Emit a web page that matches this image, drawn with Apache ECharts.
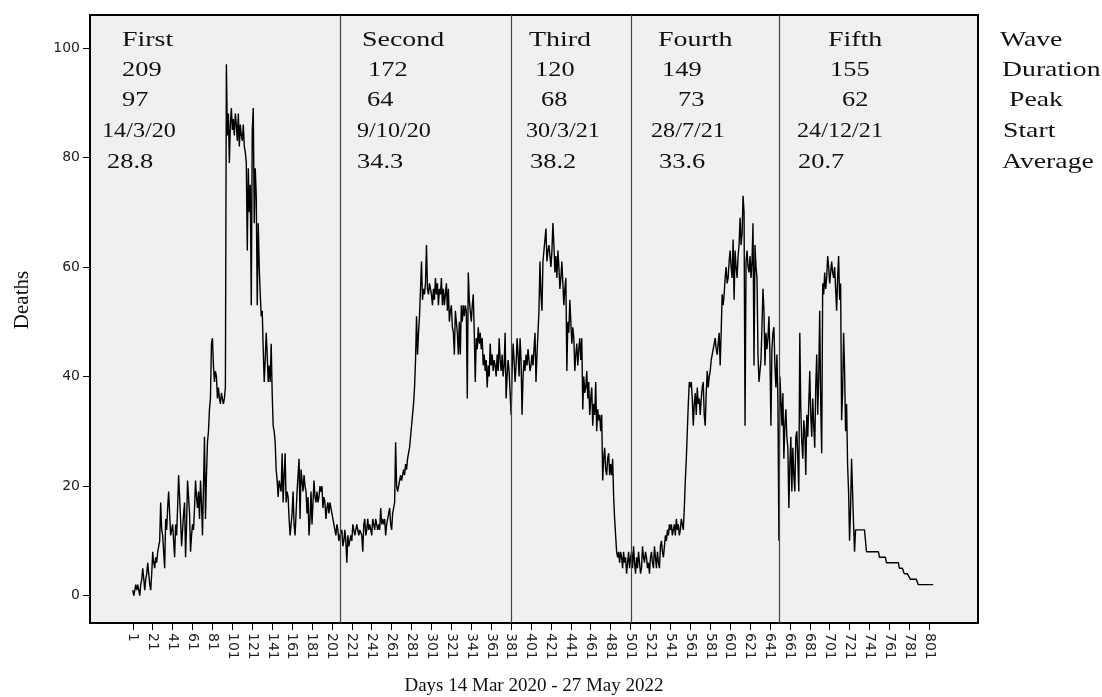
<!DOCTYPE html>
<html>
<head>
<meta charset="utf-8">
<script src="https://cdn.jsdelivr.net/npm/echarts@6/dist/echarts.min.js"></script>
<style>
html,body{margin:0;padding:0;background:#fff;}
#chart{width:1102px;height:697px;}
</style>
</head>
<body>
<div id="chart"></div>
<script>
// ---- data (daily deaths, day 1 = 14 Mar 2020) ----
const wave1 = [
1,0,1,2,1,2,1,0,2,3,
5,3,1,3,4,6,4,2,1,4,
8,6,5,7,6,8,9,10,17,12,
11,8,5,14,12,16,19,15,11,12,
13,10,7,13,11,16,22,18,14,9,
12,15,17,7,13,21,18,15,8,11,
13,12,16,21,18,16,19,14,21,17,
11,20,29,14,22,28,30,34,36,46,
47,42,39,41,40,36,38,36,35,37,
36,35,36,38,97,84,88,79,86,89,
85,87,84,88,86,83,88,82,86,84,
83,86,82,81,79,63,78,70,75,53,
85,89,68,78,73,53,68,60,55,51,
52,45,39,43,48,44,39,42,39,46,
37,31,30,28,23,21,18,21,20,19,
26,17,22,26,17,19,18,14,11,13,
15,19,13,11,15,19,22,25,14,23,
21,19,22,20,19,15,18,11,14,19,
13,17,21,18,17,19,17,18,20,19,
20,16,18,17,14,16,17,15,17,16,
15,14,13,12,11,13,12,10,11
];
const wave2 = [
11,12,9,10,12,10,6,11,9,10,
11,10,13,12,11,12,13,12,11,12,
12,11,8,13,14,11,12,14,12,13,
12,11,14,13,12,14,13,12,13,12,
16,13,14,13,14,11,13,14,15,16,
13,12,15,16,17,28,20,19,20,21,
22,21,22,23,22,24,23,25,26,27,
29,31,33,35,38,43,51,44,48,51,
51,61,54,56,55,57,64,56,55,57,
57,55,53,56,54,58,55,57,53,56,
55,58,53,56,53,55,57,52,56,50,
52,53,49,48,44,52,50,48,44,50,
44,53,50,53,51,53,52,36,59,54,
52,50,53,55,48,39,47,45,49,46,
48,45,47,42,44,41,43,38,42,40,
46,42,44,41,43,42,40,44,41,47,
43,41,44,40,42,48,36,40,43,41,37,33
];
const wave3 = [
41,46,43,39,42,47,44,40,47,43,
33,40,43,41,44,42,45,43,41,42,
44,42,45,48,39,44,48,52,61,55,
52,61,63,65,67,61,63,64,62,60,
63,68,64,59,62,58,63,60,56,58,
61,57,53,56,58,41,50,48,54,50,
46,49,47,41,44,46,42,45,47,43,
47,34,40,37,38,41,36,39,33,36,
38,31,35,33,39,30,34,32,33,30,
33,21,25,27,23,22,25,26,22,24,
22,25,18,14,11,8,7,8,6,8,
7,5,8,6,7,4,6,8,5,7
];
const wave4 = [
8,5,9,6,4,7,5,8,6,4,
5,9,7,6,8,7,5,6,4,7,
8,6,5,9,7,5,8,6,5,9,
10,8,7,9,11,10,12,11,13,12,
13,11,12,13,11,14,12,13,11,12,
14,13,12,16,21,25,30,35,39,38,
39,36,31,35,37,33,38,35,36,33,
36,38,39,33,31,37,41,38,40,41,
43,44,45,46,47,45,44,46,48,42,
48,55,53,55,58,60,57,58,61,63,
60,58,65,54,63,60,58,62,64,69,
64,66,73,70,31,61,63,60,59,62,
58,61,68,42,64,60,58,44,39,41,
43,49,56,52,42,48,45,47,51,44,
31,45,48,49,42,38,44,36,10
];
const wave5 = [
40,36,31,37,25,31,34,29,27,16,
24,29,19,27,22,19,29,30,25,19,
48,34,28,25,32,30,22,33,29,35,
41,33,29,36,31,27,38,44,33,40,
52,35,26,57,55,59,56,58,62,60,
57,59,61,59,58,60,56,52,58,62,
54,57,32,37,48,41,30,35,24,19,
10,16,25,19,13,8,12,12,12,12,
12,12,12,12,12,12,12,8,8,8,
8,8,8,8,8,8,8,8,8,8,
7,7,7,7,7,7,7,6,6,6,
6,6,6,6,6,6,6,6,6,6,
5,5,5,5,5,4,4,4,4,4,
4,3,3,3,3,3,3,3,3,2,
2,2,2,2,2,2,2,2,2,2,
2,2,2,2,2
];
const waveBoundaries = [210, 382, 502, 651];   // first day of waves 2..5
const xTicks = [1,21,41,61,81,101,121,141,161,181,201,221,241,261,281,301,321,341,361,381,401,421,441,461,481,501,521,541,561,581,601,621,641,661,681,701,721,741,761,781,801];
const yTicks = [0,20,40,60,80,100];

const waveNames = ['First','Second','Third','Fourth','Fifth'];
const durations = ['209','172','120','149','155'];
const peaks = ['97','64','68','73','62'];
const starts = ['14/3/20','9/10/20','30/3/21','28/7/21','24/12/21'];
const averages = ['28.8','34.3','38.2','33.6','20.7'];
const rowLabels = ['Wave','Duration','Peak','Start','Average'];
const xTitle = 'Days 14 Mar 2020 - 27 May 2022';
const yTitle = 'Deaths';

// ---- build ----
const allDeaths = wave1.concat(wave2, wave3, wave4, wave5);
const seriesData = allDeaths.map((v, i) => [i + 1, v]);

const serif = '"Liberation Serif","Times New Roman",serif';
const FS = 22;
const rowScale = [1.27, 1.2, 1.2, 1.1, 1.2];
const labelScale = 1.26;
// column text positions (left x) per row
const colX = [
  [122, 362, 529, 658, 828],
  [122, 368, 535, 662, 830],
  [122, 367, 541, 678, 842],
  [102, 357, 526, 651, 797],
  [107, 357, 530, 659, 798]
];
const rowX = [1000, 1002, 1009, 1003, 1002];
const rowY = [40, 70, 100, 131, 162];
const rows = [waveNames, durations, peaks, starts, averages];

const graphics = [];
rows.forEach((row, r) => {
  row.forEach((t, c) => {
    graphics.push({type:'text', x: colX[r][c], y: rowY[r], scaleX: rowScale[r],
      style:{text:t, font: FS + 'px ' + serif, fill:'#111', verticalAlign:'middle', align:'left'}});
  });
  graphics.push({type:'text', x: rowX[r], y: rowY[r], scaleX: labelScale,
    style:{text:rowLabels[r], font: FS + 'px ' + serif, fill:'#111', verticalAlign:'middle', align:'left'}});
});
graphics.push({type:'text', x: 22, y: 300, rotation: Math.PI/2,
  style:{text:yTitle, font: '21px ' + serif, fill:'#111', align:'center', verticalAlign:'middle'}});
graphics.push({type:'text', x: 534, y: 686,
  style:{text:xTitle, font: '19px ' + serif, fill:'#111', align:'center', verticalAlign:'middle'}});

const chart = echarts.init(document.getElementById('chart'));
chart.setOption({
  animation: false,
  grid: {left: 90, right: 124, top: 15, bottom: 74, show: true,
         backgroundColor: '#f0f0f0', borderColor: '#000', borderWidth: 2},
  xAxis: {
    type: 'value', min: -42, max: 850,
    splitLine: {show: false},
    axisLine: {show: true, onZero: false, lineStyle: {color: '#000', width: 2}},
    axisTick: {show: true, length: 7, customValues: xTicks, lineStyle: {color: '#000', width: 1}},
    axisLabel: {customValues: xTicks, rotate: -90, margin: 10, fontSize: 14,
                fontFamily: '"DejaVu Sans", sans-serif', color: '#222'}
  },
  yAxis: {
    type: 'value', min: -5, max: 106,
    splitLine: {show: false},
    axisLine: {show: true, onZero: false, lineStyle: {color: '#000', width: 2}},
    axisTick: {show: true, length: 7, customValues: yTicks, lineStyle: {color: '#000', width: 1}},
    axisLabel: {customValues: yTicks, margin: 10, fontSize: 14,
                fontFamily: '"DejaVu Sans", sans-serif', color: '#222'}
  },
  series: [{
    type: 'line', data: seriesData, showSymbol: false, symbol: 'none',
    lineStyle: {color: '#000', width: 1.4},
    markLine: {silent: true, symbol: 'none', label: {show: false},
      lineStyle: {color: '#444', width: 1.2, type: 'solid'},
      data: waveBoundaries.map(d => ({xAxis: d - 0.5}))}
  }],
  graphic: graphics
});
</script>
</body>
</html>
